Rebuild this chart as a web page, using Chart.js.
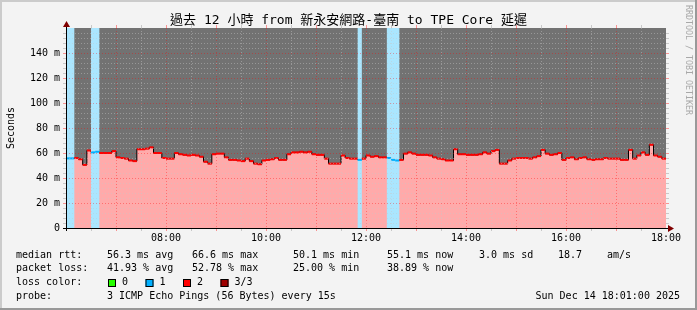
<!DOCTYPE html>
<html lang="zh-Hant">
<head>
<meta charset="UTF-8">
<title>過去 12 小時 延遲</title>
<script src="https://cdn.jsdelivr.net/npm/chart.js"></script>
<style>
  body { margin: 0; background: #f3f3f3; }
  canvas { display: block; }
</style>
</head>
<body>
<canvas id="grafico" width="697" height="310"></canvas>
<script>
// median rtt in ms, one bucket every 5 minutes from 06:00 to 18:00
const medianRtt = [
  55.7, 55.7, 56, 55, 50.5, 62, 60.5, 61, 60, 60, 60, 61.5,          // 06
  56.5, 56, 55.5, 54, 53.5, 63, 63, 63.5, 64.5, 60, 60, 56,          // 07
  55.5, 55.5, 60, 59, 58.5, 58, 58.5, 58, 57, 53, 51.5, 59,          // 08
  59.5, 59.5, 56.5, 54.5, 54.5, 54, 53.5, 55.5, 53.5, 51.5, 51, 54,  // 09
  54.5, 55, 56, 54.5, 54.5, 59, 60.5, 60.5, 61, 60.5, 61, 59,        // 10
  58.5, 58.5, 55.5, 51.5, 51.5, 51.5, 58, 56, 55.5, 55.5, 54.5, 55.5, // 11
  58, 57, 57.5, 56.5, 56.5, 56, 54.5, 54, 54.5, 59.5, 60.5, 59.5,    // 12
  58.5, 58.5, 58.5, 58, 56.5, 55.5, 55, 54, 54, 63, 59, 59,          // 13
  58.5, 58.5, 58.5, 59, 60.5, 59.5, 61.5, 62.5, 51.5, 51.5, 54, 55.5, // 14
  56, 56, 56, 55.5, 56.5, 57.5, 62.5, 59.5, 58.5, 59, 60, 54.5,      // 15
  56, 56.5, 55, 56, 56.5, 55, 54.5, 55, 55, 56, 55.5, 55.5,          // 16
  55.5, 54.5, 54.5, 62.5, 55.5, 58, 60.5, 58.5, 66.6, 58, 57, 55.5   // 17
];
// lost pings (of 3) per bucket
const lossCount = [
  1, 1, 2, 2, 2, 2, 1, 1, 2, 2, 2, 2,
  2, 2, 2, 2, 2, 2, 2, 2, 2, 2, 2, 2,
  2, 2, 2, 2, 2, 2, 2, 2, 2, 2, 2, 2,
  2, 2, 2, 2, 2, 2, 2, 2, 2, 2, 2, 2,
  2, 2, 2, 2, 2, 2, 2, 2, 2, 2, 2, 2,
  2, 2, 2, 2, 2, 2, 2, 2, 2, 2, 1, 2,
  2, 2, 2, 2, 2, 1, 1, 1, 2, 2, 2, 2,
  2, 2, 2, 2, 2, 2, 2, 2, 2, 2, 2, 2,
  2, 2, 2, 2, 2, 2, 2, 2, 2, 2, 2, 2,
  2, 2, 2, 2, 2, 2, 2, 2, 2, 2, 2, 2,
  2, 2, 2, 2, 2, 2, 2, 2, 2, 2, 2, 2,
  2, 2, 2, 2, 2, 2, 2, 2, 2, 2, 2, 2
];
const lossLabels = ['0', '1', '2', '3/3'];
const lossColors = ['#26ff00', '#00b0ff', '#ff0000', '#a00000'];

const rttStats = ['56.3 ms avg', '66.6 ms max', '50.1 ms min', '55.1 ms now', '3.0 ms sd', '18.7', 'am/s'];
const lossStats = ['41.93 % avg', '52.78 % max', '25.00 % min', '38.89 % now'];
const probeText = '3 ICMP Echo Pings (56 Bytes) every 15s';
const fechaText = 'Sun Dec 14 18:01:00 2025';
const titulo = '過去 12 小時 from 新永安網路-臺南 to TPE Core 延遲';

const startHour = 6;
const stepHours = 1 / 12;
const yMax = 160;

const times = medianRtt.map((_, i) => startHour + i * stepHours);
const endHour = startHour + medianRtt.length * stepHours;

const puntosMediana = times.map((t, i) => ({ x: t, y: medianRtt[i] }));
puntosMediana.push({ x: endHour, y: medianRtt[medianRtt.length - 1] });

const puntosBanda = times.map((t, i) => ({ x: t, y: lossCount[i] === 1 ? yMax : 0 }));
puntosBanda.push({ x: endHour, y: 0 });

// horizontal pieces only, coloured by loss
const tramos = [];
times.forEach((t, i) => {
  tramos.push({ x: t, y: medianRtt[i] }, { x: t + stepHours, y: medianRtt[i] }, { x: t + stepHours, y: null });
});

const mono = '"DejaVu Sans Mono", monospace';

function linea(ctx, x1, y1, x2, y2) {
  ctx.beginPath();
  ctx.moveTo(x1, y1);
  ctx.lineTo(x2, y2);
  ctx.stroke();
}

const fondo = {
  id: 'fondo',
  beforeDraw(chart) {
    const { ctx, chartArea: a, width, height } = chart;
    ctx.save();
    ctx.fillStyle = '#f3f3f3';
    ctx.fillRect(0, 0, width, height);
    ctx.fillStyle = '#cbcbcb';
    ctx.fillRect(0, 0, width, 2);
    ctx.fillRect(0, 0, 2, height);
    ctx.fillStyle = '#999999';
    ctx.fillRect(0, height - 2, width, 2);
    ctx.fillRect(width - 2, 0, 2, height);
    ctx.fillStyle = '#727272';
    ctx.fillRect(a.left, a.top, a.right - a.left, a.bottom - a.top);
    ctx.restore();
  }
};

const rejilla = {
  id: 'rejilla',
  afterDatasetsDraw(chart) {
    const { ctx, chartArea: a, scales: { x, y } } = chart;
    ctx.save();
    ctx.lineWidth = 1;
    x.ticks.forEach(t => {
      if (t.value <= startHour || t.value >= endHour) return;
      const px = Math.round(x.getPixelForValue(t.value)) + 0.5;
      const major = Number.isInteger(t.value);
      ctx.strokeStyle = major ? 'rgba(255,0,0,0.35)' : 'rgba(200,200,200,0.45)';
      ctx.setLineDash([1, 2]);
      linea(ctx, px, a.top, px, a.bottom);
      ctx.setLineDash([]);
      ctx.strokeStyle = major ? 'rgba(255,0,0,0.4)' : '#c8c8c8';
      linea(ctx, px, a.top - 3, px, a.top);
      linea(ctx, px, a.bottom, px, a.bottom + 3);
    });
    y.ticks.forEach(t => {
      if (t.value <= 0 || t.value >= yMax) return;
      const py = Math.round(y.getPixelForValue(t.value)) + 0.5;
      const major = t.value % 20 === 0;
      ctx.strokeStyle = major ? 'rgba(255,0,0,0.35)' : 'rgba(200,200,200,0.45)';
      ctx.setLineDash([1, 2]);
      linea(ctx, a.left, py, a.right, py);
      ctx.setLineDash([]);
      ctx.strokeStyle = major ? 'rgba(255,0,0,0.4)' : '#c8c8c8';
      linea(ctx, a.right, py, a.right + 3, py);
      linea(ctx, a.left - 3, py, a.left, py);
    });
    // axes
    ctx.strokeStyle = '#000';
    linea(ctx, a.left - 3, a.bottom + 0.5, a.right + 3, a.bottom + 0.5);
    linea(ctx, a.left + 0.5, a.bottom + 3, a.left + 0.5, a.top - 2);
    ctx.fillStyle = '#800000';
    ctx.beginPath();
    ctx.moveTo(a.left - 3, a.top - 1);
    ctx.lineTo(a.left + 4, a.top - 1);
    ctx.lineTo(a.left + 0.5, a.top - 7);
    ctx.closePath();
    ctx.fill();
    ctx.beginPath();
    ctx.moveTo(a.right + 2, a.bottom - 3);
    ctx.lineTo(a.right + 2, a.bottom + 4);
    ctx.lineTo(a.right + 8, a.bottom + 0.5);
    ctx.closePath();
    ctx.fill();
    ctx.restore();
  }
};

const textos = {
  id: 'textos',
  afterDraw(chart) {
    const { ctx, chartArea: a, width } = chart;
    ctx.save();
    ctx.fillStyle = '#000';
    ctx.textBaseline = 'middle';
    ctx.font = '13px "DejaVu Sans Mono", "Noto Sans CJK TC", monospace';
    ctx.textAlign = 'center';
    ctx.fillText(titulo, width / 2, 21);

    ctx.font = '10px ' + mono;
    ctx.save();
    ctx.translate(11, (a.top + a.bottom) / 2);
    ctx.rotate(-Math.PI / 2);
    ctx.fillText('Seconds', 0, 0);
    ctx.restore();

    ctx.save();
    ctx.fillStyle = '#a8a8a8';
    ctx.font = '8.3px ' + mono;
    ctx.textAlign = 'left';
    ctx.translate(688, 5);
    ctx.rotate(Math.PI / 2);
    ctx.fillText('RRDTOOL / TOBI OETIKER', 0, 0);
    ctx.restore();

    ctx.textAlign = 'left';
    const cols = [107, 192, 293, 387, 479, 558, 607];
    ctx.fillText('median rtt:', 16, 255);
    rttStats.forEach((s, i) => ctx.fillText(s, cols[i], 255));
    ctx.fillText('packet loss:', 16, 268.5);
    lossStats.forEach((s, i) => ctx.fillText(s, cols[i], 268.5));
    ctx.fillText('loss color:', 16, 282.5);
    lossLabels.forEach((s, i) => {
      const bx = 108 + i * 37.5;
      ctx.fillStyle = lossColors[i];
      ctx.fillRect(bx, 279, 8, 8);
      ctx.strokeStyle = '#000';
      ctx.lineWidth = 1;
      ctx.strokeRect(bx + 0.5, 279.5, 7, 7);
      ctx.fillStyle = '#000';
      ctx.fillText(s, bx + 14, 282.5);
    });
    ctx.fillText('probe:', 16, 296.5);
    ctx.fillText(probeText, 107, 296.5);
    ctx.textAlign = 'right';
    ctx.fillText(fechaText, 680, 296.5);
    ctx.restore();
  }
};

const ctx = document.getElementById('grafico').getContext('2d');
new Chart(ctx, {
  type: 'line',
  data: {
    datasets: [
      {
        label: 'median rtt',
        data: puntosMediana,
        stepped: true,
        borderColor: '#000000',
        borderWidth: 1,
        backgroundColor: '#ffaaaa',
        fill: 'origin',
        order: 3
      },
      {
        label: 'loss 1',
        data: puntosBanda,
        stepped: true,
        borderColor: 'rgba(0,0,0,0)',
        borderWidth: 0,
        backgroundColor: '#aae6ff',
        fill: 'origin',
        order: 2
      },
      {
        label: 'median color',
        data: tramos,
        borderWidth: 2,
        borderColor: '#ff0000',
        spanGaps: false,
        fill: false,
        order: 1,
        segment: {
          borderColor: c => lossColors[lossCount[Math.floor(c.p0DataIndex / 3)]]
        }
      }
    ]
  },
  options: {
    responsive: false,
    animation: false,
    devicePixelRatio: 1,
    layout: { padding: { left: 0, right: 31, top: 28, bottom: 0 } },
    elements: { point: { radius: 0 }, line: { tension: 0 } },
    plugins: {
      legend: { display: false },
      tooltip: { enabled: false }
    },
    scales: {
      x: {
        type: 'linear',
        min: startHour,
        max: endHour,
        grid: { display: false, drawTicks: false },
        border: { display: false },
        ticks: {
          stepSize: 0.5,
          autoSkip: false,
          maxRotation: 0,
          padding: 4,
          color: '#000',
          font: { family: mono, size: 10 },
          callback: v => (v % 2 === 0 && v > startHour) ? String(v).padStart(2, '0') + ':00' : ''
        },
        afterFit: s => { s.height = 82; }
      },
      y: {
        min: 0,
        max: yMax,
        grid: { display: false, drawTicks: false },
        border: { display: false },
        ticks: {
          stepSize: 4,
          autoSkip: false,
          padding: 6,
          color: '#000',
          font: { family: mono, size: 10 },
          callback: v => (v % 20 === 0 && v < yMax) ? (v === 0 ? '0' : v + ' m') : ''
        },
        afterFit: s => { s.width = 66; }
      }
    }
  },
  plugins: [fondo, rejilla, textos]
});
</script>
</body>
</html>
